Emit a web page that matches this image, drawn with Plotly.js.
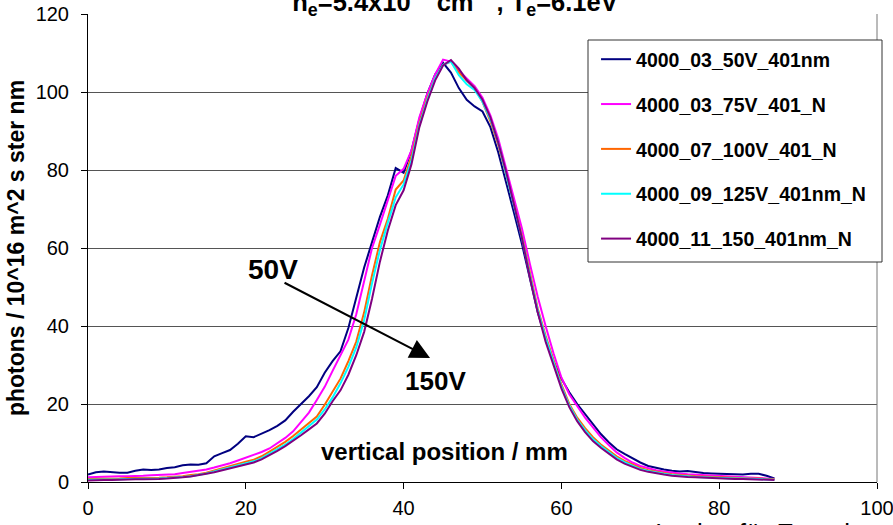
<!DOCTYPE html>
<html><head><meta charset="utf-8">
<script src="https://cdn.plot.ly/plotly-3.0.1.min.js"></script>
<style>html,body{margin:0;padding:0;background:#fff}#chart{width:893px;height:525px}</style>
</head><body><div id="chart"></div>
<script>
// vertical position / mm
const positions = [0,1,2,3,4,5,6,7,8,9,10,11,12,13,14,15,16,17,18,19,20,21,22,23,24,25,26,27,28,29,30,31,32,33,34,35,36,37,38,39,40,41,42,43,44,45,46,47,48,49,50,51,52,53,54,55,56,57,58,59,60,61,62,63,64,65,66,67,68,69,70,71,72,73,74,75,76,77,78,79,80,81,82,83,84,85,86,87];

const series50V = [1.9,2.5,2.7,2.5,2.4,2.4,2.9,3.2,3.1,3.2,
  3.6,3.8,4.3,4.5,4.4,4.8,6.6,7.4,8.2,9.8,
  11.7,11.5,12.3,13.3,14.4,15.8,18.0,20.0,22.0,24.3,
  28.0,31.0,33.5,39.5,47.5,55.0,61.5,68.0,73.5,80.5,
  79.3,85.0,93.0,99.5,104.5,107.5,105.0,101.0,98.0,96.3,
  95.0,91.0,84.5,77.0,69.0,61.0,52.0,43.5,36.8,31.0,
  26.5,23.0,20.0,17.5,14.8,12.3,10.2,8.4,7.2,6.0,
  5.0,4.1,3.6,3.2,2.9,2.7,2.8,2.5,2.3,2.2,
  2.1,2.0,1.9,1.9,2.1,2.1,1.6,0.9];

const series75V = [1.2,1.3,1.3,1.4,1.5,1.5,1.5,1.6,1.7,1.8,
  1.8,2.0,2.3,2.6,2.9,3.2,3.7,4.2,4.8,5.5,
  6.2,6.9,7.7,8.6,10.0,11.3,13.0,15.3,17.8,21.0,
  24.4,28.5,32.3,36.5,43.0,51.5,60.0,66.0,72.5,78.5,
  80.3,85.0,93.5,99.5,104.5,108.3,107.8,105.5,103.5,101.5,
  98.5,94.0,88.0,80.5,72.5,65.0,56.0,47.5,40.0,33.0,
  26.8,22.5,19.5,16.5,14.0,11.5,9.5,7.6,6.2,5.0,
  4.1,3.5,3.0,2.7,2.4,2.2,2.0,1.9,1.8,1.7,
  1.6,1.5,1.4,1.3,1.2,1.1,1.0,0.8];

const series100V = [0.8,0.8,0.9,0.9,0.9,1.0,1.0,1.0,1.1,1.1,
  1.2,1.3,1.5,1.8,2.0,2.4,3.0,3.6,4.2,4.8,
  5.2,5.7,6.6,7.8,9.0,10.3,11.8,13.5,15.2,16.8,
  19.8,23.0,26.5,31.0,36.0,43.5,53.0,61.5,67.5,75.0,
  77.3,83.5,92.0,98.5,103.5,107.0,107.8,105.0,103.0,101.0,
  97.5,92.5,86.5,79.0,71.0,63.0,53.5,44.5,37.5,31.0,
  25.0,20.0,16.5,13.8,11.5,9.6,8.0,6.6,5.4,4.4,
  3.6,3.0,2.6,2.3,2.0,1.8,1.6,1.5,1.4,1.3,
  1.2,1.1,1.0,1.0,0.9,0.9,0.8,0.7];

const series125V = [0.6,0.6,0.7,0.7,0.7,0.8,0.8,0.8,0.9,0.9,
  1.0,1.1,1.3,1.5,1.8,2.2,2.7,3.2,3.8,4.3,
  4.8,5.3,6.1,7.2,8.4,9.6,11.0,12.6,14.2,16.0,
  18.6,21.7,25.3,29.5,34.5,41.5,51.0,59.5,66.5,73.0,
  76.3,82.5,91.5,98.0,103.5,107.0,107.8,104.3,102.0,100.5,
  97.5,93.0,87.0,79.0,71.0,62.5,53.0,44.0,37.0,30.5,
  24.5,19.6,16.0,13.3,11.0,9.2,7.6,6.2,5.1,4.1,
  3.3,2.8,2.4,2.1,1.8,1.6,1.4,1.3,1.2,1.1,
  1.0,1.0,0.9,0.9,0.8,0.8,0.7,0.6];

const series150V = [0.4,0.5,0.5,0.5,0.6,0.6,0.7,0.7,0.7,0.8,
  0.9,1.0,1.2,1.4,1.7,2.1,2.5,3.0,3.6,4.1,
  4.5,5.0,5.8,6.8,8.0,9.2,10.5,12.0,13.5,15.0,
  17.5,20.7,23.5,27.5,32.5,38.5,47.0,56.5,64.5,71.0,
  74.8,81.5,91.0,97.5,103.0,106.8,108.2,106.0,103.0,101.0,
  98.0,93.5,87.0,79.5,71.0,62.5,52.5,43.5,36.0,29.8,
  24.0,19.2,15.6,12.8,10.5,8.8,7.2,5.8,4.7,3.8,
  3.1,2.6,2.2,1.9,1.6,1.4,1.3,1.2,1.1,1.0,
  1.0,0.9,0.8,0.8,0.7,0.7,0.6,0.5];

const seriesNames = ['4000_03_50V_401nm','4000_03_75V_401_N','4000_07_100V_401_N','4000_09_125V_401nm_N','4000_11_150_401nm_N'];
const seriesValues = [series50V, series75V, series100V, series125V, series150V];
const seriesColors = ['#000080','#FF00FF','#FF6600','#00FFFF','#800080'];

const xTickValues = [0,20,40,60,80,100];
const yTickValues = [0,20,40,60,80,100,120];

const FONT = '"Liberation Sans", Arial, Helvetica, sans-serif';

const traces = seriesNames.map((name, i) => ({
  type: 'scatter', mode: 'lines', name: name,
  x: positions, y: seriesValues[i],
  legendgroup: 'g' + i,
  line: {color: seriesColors[i], width: 2}
}));

const layout = {
  width: 893, height: 525,
  margin: {l: 88, r: 16, t: 14, b: 43},
  paper_bgcolor: '#fff', plot_bgcolor: '#fff',
  font: {family: FONT, color: '#000'},
  title: {
    text: 'n<sub>e</sub>=5.4x10<sup>11</sup> cm<sup>-3</sup> , T<sub>e</sub>=6.1eV',
    font: {family: FONT, size: 25.5, weight: 'bold', color: '#000'},
    xref: 'container', yref: 'container', x: 0.5095, xanchor: 'center', y: 0.997, yanchor: 'middle'
  },
  xaxis: {
    range: [0, 100], tickvals: xTickValues, ticks: 'outside', ticklen: 6, tickcolor: '#000',
    showline: true, linecolor: '#000', linewidth: 1, showgrid: false, zeroline: false,
    tickfont: {family: FONT, size: 20, color: '#000'}, ticklabelstandoff: 2,
    ticklabeloverflow: 'allow'
  },
  yaxis: {
    range: [0, 120], tickvals: yTickValues, ticks: 'outside', ticklen: 6, tickcolor: '#000',
    showline: true, linecolor: '#000', linewidth: 1, showgrid: true, gridcolor: '#555', gridwidth: 1,
    zeroline: false, tickfont: {family: FONT, size: 20, color: '#000'}, ticklabelstandoff: 8,
    ticklabeloverflow: 'allow',
    title: {text: 'photons / 10^16 m^2 s ster nm', font: {family: FONT, size: 23, weight: 'bold', color: '#000'}, standoff: 4}
  },
  legend: {
    x: 0.6439, y: 0.9444, xanchor: 'left', yanchor: 'top',
    bgcolor: 'rgba(0,0,0,0)', borderwidth: 0,
    font: {family: FONT, size: 19.5, weight: 'bold', color: '#000'},
    traceorder: 'grouped', tracegroupgap: 16.5, itemwidth: 30
  },
  shapes: [
    {type: 'line', xref: 'paper', yref: 'paper', x0: 1, x1: 1, y0: 0, y1: 1, line: {color: '#777', width: 1}},
    // legend frame
    {type: 'rect', xref: 'paper', yref: 'paper', layer: 'above',
     x0: (588 - 88) / 789, x1: (882 - 88) / 789, y0: (482 - 262) / 468, y1: (482 - 40) / 468,
     fillcolor: '#fff', line: {color: '#333', width: 1}}
  ],
  annotations: [
    {text: 'vertical position / mm', xref: 'paper', yref: 'paper', x: 0.4518, y: 0.0662,
     xanchor: 'center', yanchor: 'middle', showarrow: false,
     font: {family: FONT, size: 24, weight: 'bold', color: '#000'}},
    {text: '50V', xref: 'paper', yref: 'paper', x: 0.2351, y: 0.4551,
     xanchor: 'center', yanchor: 'middle', showarrow: false,
     font: {family: FONT, size: 28, weight: 'bold', color: '#000'}},
    {text: '150V', xref: 'paper', yref: 'paper', x: 0.4404, y: 0.2158,
     xanchor: 'center', yanchor: 'middle', showarrow: false,
     font: {family: FONT, size: 26, weight: 'bold', color: '#000'}},
    {text: '', xref: 'x', yref: 'y', x: 43.35, y: 31.8, showarrow: true, ax: -147, ay: -76,
     arrowhead: 2, arrowsize: 2, arrowwidth: 2, arrowcolor: '#000'},
    {text: 'Institut für Experimentalphysik', xref: 'paper', yref: 'paper', x: 0.716, y: -0.072,
     xanchor: 'left', yanchor: 'top', showarrow: false, font: {family: FONT, size: 26, color: '#000'}}
  ]
};

Plotly.newPlot('chart', traces, layout, {displayModeBar: false, staticPlot: true});
</script>
</body></html>
